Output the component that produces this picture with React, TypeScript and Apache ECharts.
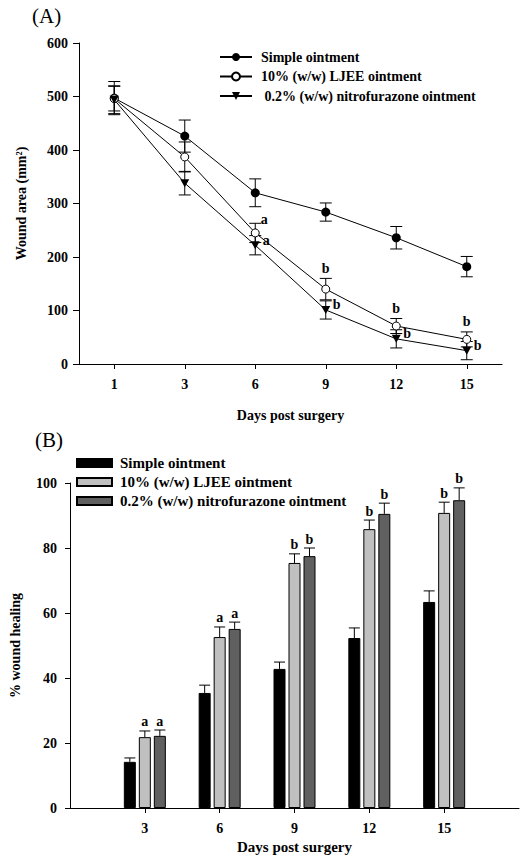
import React, { useEffect, useRef } from 'react';
import * as echarts from 'echarts';

// ---------- Panel (A): wound area ----------
const daysA = ['1', '3', '6', '9', '12', '15'];
const simpleArea = [497, 426, 320, 284, 236, 182];
const simpleAreaErr = [31, 30, 26, 17, 21, 19];
const ljeeArea = [496, 387, 245, 140, 71, 46];
const ljeeAreaErr = [23, 28, 18, 20, 14, 14];
const nitroArea = [494, 338, 222, 101, 47, 25];
const nitroAreaErr = [26, 22, 18, 17, 17, 17];
const ljeeSigA = ['', '', 'a', 'b', 'b', 'b'];
const nitroSigA = ['', '', 'a', 'b', 'b', 'b'];

// ---------- Panel (B): % wound healing ----------
const daysB = ['3', '6', '9', '12', '15'];
const simpleHeal = [14.2, 35.4, 42.8, 52.3, 63.4];
const simpleHealErr = [1.2, 2.4, 2.1, 3.1, 3.4];
const ljeeHeal = [21.8, 52.6, 75.4, 85.8, 90.8];
const ljeeHealErr = [1.9, 3.1, 2.8, 2.8, 3.3];
const nitroHeal = [22.2, 55.1, 77.5, 90.5, 94.7];
const nitroHealErr = [1.8, 2.1, 2.5, 3.3, 3.8];
const simpleSigB = ['', '', '', '', ''];
const ljeeSigB = ['a', 'a', 'b', 'b', 'b'];
const nitroSigB = ['a', 'a', 'b', 'b', 'b'];

const seriesNamesA = ['Simple ointment', '10% (w/w) LJEE ointment', ' 0.2% (w/w) nitrofurazone ointment'];
const seriesNamesB = ['Simple ointment', '10% (w/w) LJEE ointment', '0.2% (w/w) nitrofurazone ointment'];

const FONT = '"Liberation Serif", "Times New Roman", serif';

export default function App() {
  const ref = useRef<HTMLDivElement>(null);

  useEffect(() => {
    const chart = echarts.init(ref.current!, null, { renderer: 'svg' });

    const txtBold = (size: number) => ({
      fontFamily: FONT,
      fontWeight: 'bold' as const,
      fontSize: size,
      color: '#000',
    });

    const lineSt = { stroke: '#000', lineWidth: 1 };

    // error bars + significance letters for panel A
    const errRenderA = (sig: string[], mode: 'ljee' | 'nitro' | 'none') => (params: any, api: any) => {
      const i = params.dataIndex;
      const x = api.value(0);
      const m = api.value(1);
      const e = api.value(2);
      const top = api.coord([x, m + e]);
      const bot = api.coord([x, m - e]);
      const pt = api.coord([x, m]);
      const cw = 6;
      const children: any[] = [
        { type: 'line', shape: { x1: top[0], y1: top[1], x2: bot[0], y2: bot[1] }, style: lineSt },
        { type: 'line', shape: { x1: top[0] - cw, y1: top[1], x2: top[0] + cw, y2: top[1] }, style: lineSt },
        { type: 'line', shape: { x1: bot[0] - cw, y1: bot[1], x2: bot[0] + cw, y2: bot[1] }, style: lineSt },
      ];
      const s = sig[i];
      if (s) {
        let tx = pt[0];
        let ty = pt[1];
        if (mode === 'ljee') {
          if (i === 2) {
            tx = pt[0] + 9;
            ty = pt[1] - 13;
          } else {
            tx = pt[0];
            ty = top[1] - 10;
          }
        } else if (mode === 'nitro') {
          tx = pt[0] + 11;
          ty = pt[1] - 5;
        }
        children.push({
          type: 'text',
          style: { text: s, x: tx, y: ty, fill: '#000', font: `bold 14px ${FONT}`, align: 'center', verticalAlign: 'middle' },
        });
      }
      return { type: 'group', children };
    };

    const barW = 12;
    const barStep = 15;
    const errRenderB = (sig: string[], k: number) => (params: any, api: any) => {
      const i = params.dataIndex;
      const x = api.value(0);
      const m = api.value(1);
      const e = api.value(2);
      const base = api.coord([x, m]);
      const top = api.coord([x, m + e]);
      const cx = base[0] + (k - 1) * barStep;
      const cw = 5.5;
      const children: any[] = [
        { type: 'line', shape: { x1: cx, y1: base[1], x2: cx, y2: top[1] }, style: lineSt },
        { type: 'line', shape: { x1: cx - cw, y1: top[1], x2: cx + cw, y2: top[1] }, style: lineSt },
      ];
      const s = sig[i];
      if (s) {
        children.push({
          type: 'text',
          style: { text: s, x: cx, y: top[1] - 9, fill: '#000', font: `bold 14px ${FONT}`, align: 'center', verticalAlign: 'middle' },
        });
      }
      return { type: 'group', children };
    };

    const slotsB = ['', ...daysB, ''];
    const padB = (arr: number[]) => ['-', ...arr, '-'];
    const errDataA = (vals: number[], errs: number[]) => vals.map((v, i) => [i, v, errs[i]]);
    const errDataB = (vals: number[], errs: number[]) => vals.map((v, i) => [i + 1, v, errs[i]]);

    const axisLine = { show: true, lineStyle: { color: '#000', width: 1 } };

    const option: any = {
      animation: false,
      backgroundColor: '#fff',
      graphic: [
        { type: 'text', left: 32, top: 5, style: { text: '(A)', font: `21px ${FONT}`, fill: '#000' } },
        { type: 'text', left: 35, top: 429, style: { text: '(B)', font: `21px ${FONT}`, fill: '#000' } },
      ],
      legend: [
        {
          data: seriesNamesA.map((n) => 'A:' + n),
          formatter: (n: string) => n.replace(/^A:/, ''),
          orient: 'vertical',
          left: 219,
          top: 49.5,
          itemWidth: 32,
          itemHeight: 10,
          itemGap: 4.5,
          padding: 0,
          selectedMode: false,
          textStyle: { ...txtBold(14), lineHeight: 15, padding: [0, 0, 0, 4] },
        },
        {
          data: seriesNamesB.map((n) => 'B:' + n),
          formatter: (n: string) => n.replace(/^B:/, ''),
          orient: 'vertical',
          left: 76,
          top: 455.5,
          icon: 'rect',
          itemWidth: 35,
          itemHeight: 8,
          itemGap: 4,
          padding: 0,
          selectedMode: false,
          textStyle: { ...txtBold(15), lineHeight: 15, padding: [0, 0, 0, 3] },
        },
      ],
      grid: [
        { left: 79, top: 43, width: 423, height: 321, containLabel: false },
        { left: 67, top: 483, width: 452, height: 325, containLabel: false },
      ],
      xAxis: [
        {
          gridIndex: 0,
          type: 'category',
          data: daysA,
          boundaryGap: true,
          axisLine,
          axisTick: { show: true, alignWithLabel: true, length: 5, lineStyle: { color: '#000' } },
          axisLabel: { ...txtBold(14), margin: 13 },
          name: 'Days post surgery',
          nameLocation: 'middle',
          nameGap: 44,
          nameTextStyle: txtBold(14),
          splitLine: { show: false },
        },
        {
          gridIndex: 1,
          type: 'category',
          data: slotsB,
          boundaryGap: false,
          axisLine,
          axisTick: {
            show: true,
            length: 5,
            interval: (i: number) => i > 0 && i < slotsB.length - 1,
            lineStyle: { color: '#000' },
          },
          axisLabel: { ...txtBold(14), margin: 13, interval: 0 },
          name: 'Days post surgery',
          nameLocation: 'middle',
          nameGap: 31,
          nameTextStyle: txtBold(15),
          splitLine: { show: false },
        },
      ],
      yAxis: [
        {
          gridIndex: 0,
          type: 'value',
          min: 0,
          max: 600,
          interval: 100,
          axisLine,
          axisTick: { show: true, length: 6, lineStyle: { color: '#000' } },
          axisLabel: { ...txtBold(14), margin: 11 },
          splitLine: { show: false },
          name: 'Wound area (mm²)',
          nameLocation: 'middle',
          nameGap: 51,
          nameTextStyle: txtBold(14),
        },
        {
          gridIndex: 1,
          type: 'value',
          min: 0,
          max: 100,
          interval: 20,
          axisLine,
          axisTick: { show: true, length: 5, lineStyle: { color: '#000' } },
          axisLabel: { ...txtBold(14), margin: 13 },
          splitLine: { show: false },
          name: '% wound healing',
          nameLocation: 'middle',
          nameGap: 48,
          nameTextStyle: txtBold(14),
        },
      ],
      series: [
        // Panel A error bars (beneath symbols)
        {
          type: 'custom', xAxisIndex: 0, yAxisIndex: 0, z: 1,
          renderItem: errRenderA(['', '', '', '', '', ''], 'none'),
          data: errDataA(simpleArea, simpleAreaErr),
        },
        {
          type: 'custom', xAxisIndex: 0, yAxisIndex: 0, z: 1,
          renderItem: errRenderA(ljeeSigA, 'ljee'),
          data: errDataA(ljeeArea, ljeeAreaErr),
        },
        {
          type: 'custom', xAxisIndex: 0, yAxisIndex: 0, z: 1,
          renderItem: errRenderA(nitroSigA, 'nitro'),
          data: errDataA(nitroArea, nitroAreaErr),
        },
        // Panel A lines
        {
          name: 'A:' + seriesNamesA[0],
          type: 'line', xAxisIndex: 0, yAxisIndex: 0, z: 3,
          data: simpleArea,
          symbol: 'circle', symbolSize: 9,
          itemStyle: { color: '#000' },
          lineStyle: { color: '#000', width: 1 },
        },
        {
          name: 'A:' + seriesNamesA[1],
          type: 'line', xAxisIndex: 0, yAxisIndex: 0, z: 3,
          data: ljeeArea,
          symbol: 'circle', symbolSize: 8,
          itemStyle: { color: '#fff', borderColor: '#000', borderWidth: 1 },
          lineStyle: { color: '#000', width: 1 },
        },
        {
          name: 'A:' + seriesNamesA[2],
          type: 'line', xAxisIndex: 0, yAxisIndex: 0, z: 3,
          data: nitroArea,
          symbol: 'path://M0,0L10,0L5,9Z', symbolSize: [9, 8],
          itemStyle: { color: '#000' },
          lineStyle: { color: '#000', width: 1 },
        },
        // Panel B bars
        {
          name: 'B:' + seriesNamesB[0],
          type: 'bar', xAxisIndex: 1, yAxisIndex: 1,
          data: padB(simpleHeal),
          barWidth: barW, barGap: '25%',
          itemStyle: { color: '#000', borderColor: '#000', borderWidth: 1 },
        },
        {
          name: 'B:' + seriesNamesB[1],
          type: 'bar', xAxisIndex: 1, yAxisIndex: 1,
          data: padB(ljeeHeal),
          barWidth: barW, barGap: '25%',
          itemStyle: { color: '#c0c0c0', borderColor: '#000', borderWidth: 1 },
        },
        {
          name: 'B:' + seriesNamesB[2],
          type: 'bar', xAxisIndex: 1, yAxisIndex: 1,
          data: padB(nitroHeal),
          barWidth: barW, barGap: '25%',
          itemStyle: { color: '#606060', borderColor: '#000', borderWidth: 1 },
        },
        // Panel B error bars
        {
          type: 'custom', xAxisIndex: 1, yAxisIndex: 1, z: 3,
          renderItem: errRenderB(simpleSigB, 0),
          data: errDataB(simpleHeal, simpleHealErr),
        },
        {
          type: 'custom', xAxisIndex: 1, yAxisIndex: 1, z: 3,
          renderItem: errRenderB(ljeeSigB, 1),
          data: errDataB(ljeeHeal, ljeeHealErr),
        },
        {
          type: 'custom', xAxisIndex: 1, yAxisIndex: 1, z: 3,
          renderItem: errRenderB(nitroSigB, 2),
          data: errDataB(nitroHeal, nitroHealErr),
        },
      ],
    };

    chart.setOption(option);
    return () => chart.dispose();
  }, []);

  return (
    <div
      ref={ref}
      style={{ position: 'fixed', left: 0, top: 0, width: 524, height: 858, background: '#fff' }}
    />
  );
}
